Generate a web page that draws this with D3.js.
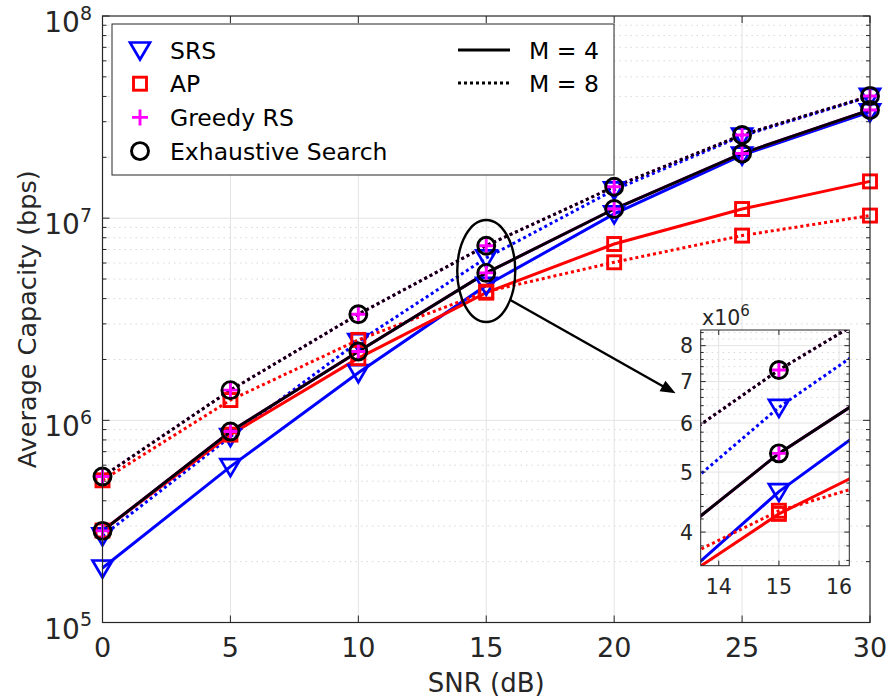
<!DOCTYPE html>
<html>
<head>
<meta charset="utf-8">
<title>Average Capacity vs SNR</title>
<script src="https://d3js.org/d3.v7.min.js"></script>
<style>
  body { margin: 0; background: #fff; }
  svg { display: block; font-family: "DejaVu Sans", sans-serif; }
  .grid-major { stroke: #e3e3e3; stroke-width: 1; }
  .grid-minor { stroke: #d8d8d8; stroke-width: 1; stroke-dasharray: 1.5,4; }
  .tick-lbl { fill: #262626; }
</style>
</head>
<body>
<div id="chart"></div>
<script>
// SNR points (dB)
const snr = [0, 5, 10, 15, 20, 25, 30];

// capacity values (bps)
const srsM4 = [186e3, 590e3, 1.72e6, 4.65e6, 10.5e6, 20.5e6, 33.6e6];
const srsM8 = [268e3, 830e3, 2.45e6, 6.36e6, 13.8e6, 25.5e6, 40.0e6];
const apM4 = [285e3, 850e3, 2.03e6, 4.28e6, 7.45e6, 11.1e6, 15.2e6];
const apM8 = [505e3, 1.26e6, 2.50e6, 4.33e6, 6.05e6, 8.2e6, 10.3e6];
const greedyM4 = [284e3, 880e3, 2.19e6, 5.36e6, 11.1e6, 20.9e6, 34.3e6];
const greedyM8 = [527e3, 1.41e6, 3.35e6, 7.31e6, 14.3e6, 25.8e6, 40.2e6];
const esM4 = [284e3, 880e3, 2.19e6, 5.36e6, 11.1e6, 20.9e6, 34.3e6];
const esM8 = [527e3, 1.41e6, 3.35e6, 7.31e6, 14.3e6, 25.8e6, 40.2e6];

const xTicks = [0, 5, 10, 15, 20, 25, 30];
const yDecades = [5, 6, 7, 8];
const insetXTicks = [14, 15, 16];
const insetYTicks = [4, 5, 6, 7, 8];

const legendMarkers = ["SRS", "AP", "Greedy RS", "Exhaustive Search"];
const legendLines = ["M = 4", "M = 8"];

const W = 889, H = 700;
const axisColor = "#262626";
const LW = 3;

// series table built from the arrays above
const series = [
  { name: "SRS", vals: srsM4, M: 4, color: "#0000ff", marker: "tri" },
  { name: "SRS", vals: srsM8, M: 8, color: "#0000ff", marker: "tri" },
  { name: "AP", vals: apM4, M: 4, color: "#ff0000", marker: "sq" },
  { name: "AP", vals: apM8, M: 8, color: "#ff0000", marker: "sq" },
  { name: "Greedy RS", vals: greedyM4, M: 4, color: "#ff00ff", marker: "plus" },
  { name: "Greedy RS", vals: greedyM8, M: 8, color: "#ff00ff", marker: "plus" },
  { name: "Exhaustive Search", vals: esM4, M: 4, color: "#000000", marker: "circ" },
  { name: "Exhaustive Search", vals: esM8, M: 8, color: "#000000", marker: "circ" }
];

const svg = d3.select("#chart").append("svg").attr("width", W).attr("height", H);

const x = d3.scaleLinear().domain([0, 30]).range([102.5, 870]);
const y = d3.scaleLog().domain([1e5, 1e8]).range([622.5, 16]);

// minor values for log grid
const minorVals = [];
yDecades.slice(0, -1).forEach(e => {
  for (let k = 2; k <= 9; k++) minorVals.push(k * Math.pow(10, e));
});

function drawMarker(g, type, color, cx, cy) {
  if (type === "tri") {
    g.append("path")
      .attr("d", `M${cx - 10},${cy - 7.5}L${cx + 10},${cy - 7.5}L${cx},${cy + 9.5}Z`)
      .attr("fill", "none").attr("stroke", color).attr("stroke-width", 2.7)
      .attr("stroke-linejoin", "miter");
  } else if (type === "sq") {
    g.append("rect")
      .attr("x", cx - 6.5).attr("y", cy - 6.5).attr("width", 13).attr("height", 13)
      .attr("fill", "none").attr("stroke", color).attr("stroke-width", 2.9);
  } else if (type === "plus") {
    g.append("path")
      .attr("d", `M${cx - 8},${cy}L${cx + 8},${cy}M${cx},${cy - 8}L${cx},${cy + 8}`)
      .attr("stroke", color).attr("stroke-width", 2.9);
  } else {
    g.append("circle")
      .attr("cx", cx).attr("cy", cy).attr("r", 8.5)
      .attr("fill", "none").attr("stroke", color).attr("stroke-width", 2.9);
  }
}

function drawSeries(g, xs, ys) {
  const line = d3.line().x((d, i) => xs(snr[i])).y(d => ys(d));
  series.forEach(s => {
    g.append("path")
      .attr("d", line(s.vals))
      .attr("fill", "none")
      .attr("stroke", s.color)
      .attr("stroke-width", LW)
      .attr("stroke-dasharray", s.M === 8 ? "3,3" : null);
  });
  series.forEach(s => {
    s.vals.forEach((v, i) => drawMarker(g, s.marker, s.color, xs(snr[i]), ys(v)));
  });
}

// ---------- main axes ----------
const grid = svg.append("g");
grid.selectAll(".mv").data(xTicks.slice(1, -1)).enter().append("line")
  .attr("class", "grid-major")
  .attr("x1", d => x(d)).attr("x2", d => x(d))
  .attr("y1", y(1e8)).attr("y2", y(1e5));
grid.selectAll(".mh").data(yDecades.slice(1, -1)).enter().append("line")
  .attr("class", "grid-major")
  .attr("x1", x(0)).attr("x2", x(30))
  .attr("y1", d => y(Math.pow(10, d))).attr("y2", d => y(Math.pow(10, d)));
grid.selectAll(".nh").data(minorVals).enter().append("line")
  .attr("class", "grid-minor")
  .attr("x1", x(0)).attr("x2", x(30))
  .attr("y1", d => y(d)).attr("y2", d => y(d));

// ticks on all four sides
const ticks = svg.append("g").attr("stroke", axisColor).attr("stroke-width", 1);
xTicks.forEach(t => {
  ticks.append("line").attr("x1", x(t)).attr("x2", x(t)).attr("y1", y(1e5)).attr("y2", y(1e5) - 7);
  ticks.append("line").attr("x1", x(t)).attr("x2", x(t)).attr("y1", y(1e8)).attr("y2", y(1e8) + 7);
});
yDecades.forEach(e => {
  const yy = y(Math.pow(10, e));
  ticks.append("line").attr("x1", x(0)).attr("x2", x(0) + 7).attr("y1", yy).attr("y2", yy);
  ticks.append("line").attr("x1", x(30)).attr("x2", x(30) - 7).attr("y1", yy).attr("y2", yy);
});
minorVals.forEach(v => {
  ticks.append("line").attr("x1", x(0)).attr("x2", x(0) + 4).attr("y1", y(v)).attr("y2", y(v));
  ticks.append("line").attr("x1", x(30)).attr("x2", x(30) - 4).attr("y1", y(v)).attr("y2", y(v));
});

// data
const plot = svg.append("g");
drawSeries(plot, x, y);

// axes box
svg.append("rect")
  .attr("x", x(0)).attr("y", y(1e8))
  .attr("width", x(30) - x(0)).attr("height", y(1e5) - y(1e8))
  .attr("fill", "none").attr("stroke", axisColor).attr("stroke-width", 1.2);

// tick labels
svg.selectAll(".xl").data(xTicks).enter().append("text")
  .attr("class", "tick-lbl")
  .attr("x", d => x(d)).attr("y", 656.5)
  .attr("text-anchor", "middle").attr("font-size", 27)
  .text(d => d);

const yl = svg.selectAll(".yl").data(yDecades).enter().append("text")
  .attr("class", "tick-lbl")
  .attr("x", 92).attr("y", d => y(Math.pow(10, d)) + 16)
  .attr("text-anchor", "end").attr("font-size", 28);
yl.append("tspan").text("10");
yl.append("tspan").attr("dy", -12.5).attr("font-size", 19).text(d => d);

// axis titles
svg.append("text").attr("class", "tick-lbl")
  .attr("x", x(15)).attr("y", 692)
  .attr("text-anchor", "middle").attr("font-size", 26)
  .text("SNR (dB)");
svg.append("text").attr("class", "tick-lbl")
  .attr("transform", `translate(36,${(y(1e8) + y(1e5)) / 2}) rotate(-90)`)
  .attr("text-anchor", "middle").attr("font-size", 25.5)
  .text("Average Capacity (bps)");

// ---------- legend ----------
const lg = svg.append("g");
lg.append("rect")
  .attr("x", 112).attr("y", 24).attr("width", 502).attr("height", 151)
  .attr("fill", "#fff").attr("stroke", axisColor).attr("stroke-width", 1);
const legendTypes = ["tri", "sq", "plus", "circ"];
const legendColors = ["#0000ff", "#ff0000", "#ff00ff", "#000000"];
legendMarkers.forEach((name, i) => {
  const yy = 50 + i * 33.7;
  drawMarker(lg, legendTypes[i], legendColors[i], 140, yy);
  lg.append("text").attr("x", 170).attr("y", yy + 8.5)
    .attr("font-size", 23.5).attr("fill", "#000").text(name);
});
legendLines.forEach((name, i) => {
  const yy = 50 + i * 33;
  lg.append("line").attr("x1", 458).attr("x2", 510).attr("y1", yy).attr("y2", yy)
    .attr("stroke", "#000").attr("stroke-width", LW)
    .attr("stroke-dasharray", i === 1 ? "3,3" : null);
  lg.append("text").attr("x", 529).attr("y", yy + 8.5)
    .attr("font-size", 23.5).attr("fill", "#000").text(name);
});

// ---------- zoom annotation ----------
const ell = { cx: x(15), cy: y(5.48e6) };
svg.append("ellipse")
  .attr("cx", ell.cx).attr("cy", ell.cy).attr("rx", 29).attr("ry", 51)
  .attr("fill", "none").attr("stroke", "#000").attr("stroke-width", 2.4);
const a0 = [x(15.94), y(3.94e6)], a1 = [x(22.4), y(1.36e6)];
svg.append("line")
  .attr("x1", a0[0]).attr("y1", a0[1]).attr("x2", a1[0] - 10).attr("y2", a1[1] - 5.6)
  .attr("stroke", "#000").attr("stroke-width", 2.4);
const ang = Math.atan2(a1[1] - a0[1], a1[0] - a0[0]);
const hl = 15, hw = 6;
const p1 = [a1[0] - hl * Math.cos(ang) + hw * Math.sin(ang), a1[1] - hl * Math.sin(ang) - hw * Math.cos(ang)];
const p2 = [a1[0] - hl * Math.cos(ang) - hw * Math.sin(ang), a1[1] - hl * Math.sin(ang) + hw * Math.cos(ang)];
svg.append("path").attr("d", `M${a1[0]},${a1[1]}L${p1[0]},${p1[1]}L${p2[0]},${p2[1]}Z`).attr("fill", "#000");

// ---------- inset ----------
const ix = d3.scaleLinear().domain([13.7, 16.17]).range([700.7, 849.3]);
const iy = d3.scaleLog().domain([3.53e6, 8.48e6]).range([565.7, 330]);
const inset = svg.append("g");
inset.append("rect")
  .attr("x", 700.7).attr("y", 330).attr("width", 148.6).attr("height", 235.7)
  .attr("fill", "#fff");
const insetMinor = d3.range(36, 85, 2).map(v => v * 1e5).filter(v => v % 1e6 !== 0);
inset.selectAll(".im").data(insetMinor).enter().append("line")
  .attr("class", "grid-minor")
  .attr("x1", 700.7).attr("x2", 849.3).attr("y1", d => iy(d)).attr("y2", d => iy(d));
inset.selectAll(".ih").data(insetYTicks).enter().append("line")
  .attr("class", "grid-major")
  .attr("x1", 700.7).attr("x2", 849.3).attr("y1", d => iy(d * 1e6)).attr("y2", d => iy(d * 1e6));
inset.selectAll(".iv").data(insetXTicks).enter().append("line")
  .attr("class", "grid-major")
  .attr("x1", d => ix(d)).attr("x2", d => ix(d)).attr("y1", 330).attr("y2", 565.7);

svg.append("clipPath").attr("id", "insetClip").append("rect")
  .attr("x", 700.7).attr("y", 330).attr("width", 148.6).attr("height", 235.7);
const iplot = inset.append("g").attr("clip-path", "url(#insetClip)");
drawSeries(iplot, ix, iy);

const it = inset.append("g").attr("stroke", axisColor).attr("stroke-width", 1);
insetXTicks.forEach(t => {
  it.append("line").attr("x1", ix(t)).attr("x2", ix(t)).attr("y1", 565.7).attr("y2", 560.7);
  it.append("line").attr("x1", ix(t)).attr("x2", ix(t)).attr("y1", 330).attr("y2", 335);
});
insetYTicks.forEach(t => {
  it.append("line").attr("x1", 700.7).attr("x2", 705.7).attr("y1", iy(t * 1e6)).attr("y2", iy(t * 1e6));
  it.append("line").attr("x1", 849.3).attr("x2", 844.3).attr("y1", iy(t * 1e6)).attr("y2", iy(t * 1e6));
});
insetMinor.forEach(v => {
  it.append("line").attr("x1", 700.7).attr("x2", 703.7).attr("y1", iy(v)).attr("y2", iy(v));
  it.append("line").attr("x1", 849.3).attr("x2", 846.3).attr("y1", iy(v)).attr("y2", iy(v));
});
inset.append("rect")
  .attr("x", 700.7).attr("y", 330).attr("width", 148.6).attr("height", 235.7)
  .attr("fill", "none").attr("stroke", axisColor).attr("stroke-width", 1);

inset.selectAll(".ixl").data(insetXTicks).enter().append("text")
  .attr("class", "tick-lbl")
  .attr("x", d => ix(d)).attr("y", 593.5).attr("text-anchor", "middle")
  .attr("font-size", 20.5).text(d => d);
inset.selectAll(".iyl").data(insetYTicks).enter().append("text")
  .attr("class", "tick-lbl")
  .attr("x", 693).attr("y", d => iy(d * 1e6) + 7.5).attr("text-anchor", "end")
  .attr("font-size", 20.5).text(d => d);
const ex = inset.append("text").attr("class", "tick-lbl")
  .attr("x", 702).attr("y", 325).attr("font-size", 20.5);
ex.append("tspan").text("x10");
ex.append("tspan").attr("dy", -9).attr("font-size", 15).text("6");
</script>
</body>
</html>
